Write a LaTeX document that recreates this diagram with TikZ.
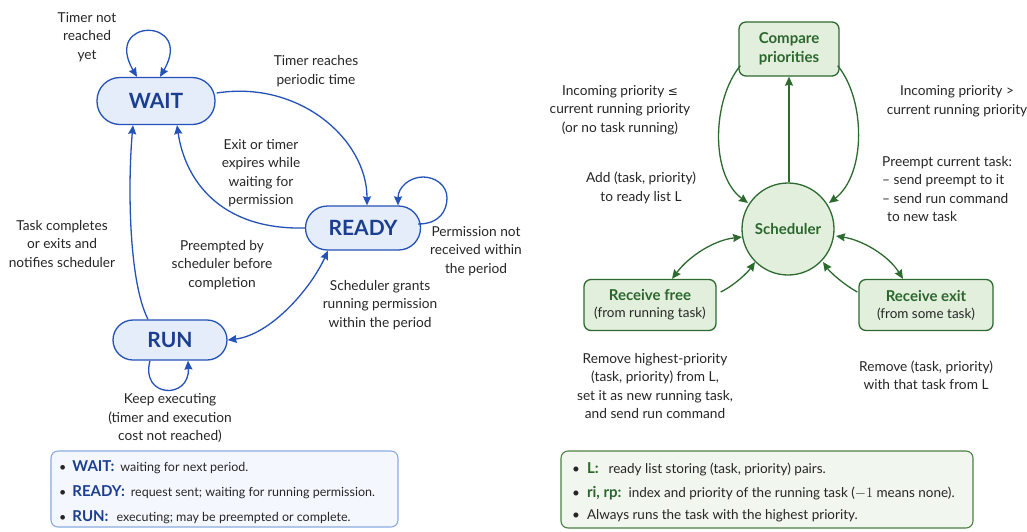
\documentclass[tikz,border=0pt]{standalone}
\usepackage{fontspec}
\setmainfont{Lato}
\newfontfamily\symfont{DejaVu Sans}
\usetikzlibrary{arrows.meta,calc}
\definecolor{bline}{HTML}{2552B8}
\definecolor{btext}{HTML}{1B3E91}
\definecolor{bfill}{HTML}{E4EDF9}
\definecolor{gline}{HTML}{2D6A2F}
\definecolor{gtext}{HTML}{2B672D}
\definecolor{gfill}{HTML}{E3EFDD}
\definecolor{ink}{HTML}{262626}
\definecolor{blegfill}{HTML}{F4F8FE}
\definecolor{blegline}{HTML}{8BAAE3}
\definecolor{glegfill}{HTML}{F1F6EE}
\definecolor{glegline}{HTML}{4C7F45}
\begin{document}
\begin{tikzpicture}[x=1pt,y=-1pt,
  tip/.tip={Stealth[length=9pt,width=8pt,inset=1pt]},
  state/.style={draw=bline, line width=1.3pt, fill=bfill, text=btext,
    font=\fontsize{21}{24}\selectfont\bfseries, inner sep=0pt},
  barr/.style={draw=bline, line width=1.3pt, -tip},
  barrb/.style={draw=bline, line width=1.3pt, tip-tip},
  garr/.style={draw=gline, line width=1.3pt, -tip},
  garrb/.style={draw=gline, line width=1.3pt, tip-tip},
  lbl/.style={text=ink, align=center, font=\fontsize{13.7}{18.5}\selectfont, inner sep=0pt},
  gbox/.style={draw=gline, line width=1.3pt, fill=gfill, rounded corners=7pt, align=center, inner sep=0pt},
  legitem/.style={anchor=west, text=ink, inner sep=0pt},
]
\useasboundingbox[fill=white] (0,0) rectangle (1027,531);

% ---------- task state machine ----------
\node[state, minimum width=118pt, minimum height=47pt, rounded corners=23pt] (wait) at (156,101) {WAIT};
\node[state, minimum width=115pt, minimum height=44pt, rounded corners=22pt] (ready) at (363,228) {READY};
\node[state, minimum width=114pt, minimum height=40pt, rounded corners=20pt] (run) at (170,340) {RUN};

% self loops
\draw[barrb] ($(wait.north)+(-19,0)$) .. controls (102,17) and (195,17) .. ($(wait.north)+(4,0)$);
\draw[barr] ($(ready.east)+(-3,-4)$) .. controls (440,224) and (447,210) .. (447,198)
  .. controls (447,185) and (435,177) .. (423,177)
  .. controls (410,177) and (398,187) .. ($(ready.north)+(35,0)$);
\draw[barr] ($(run.south)+(-20,0)$) .. controls (140,398) and (190,400) .. ($(run.south)+(18,0)$);

% transitions
\draw[barr] ($(wait.east)+(1,-8)$) .. controls (300,80) and (367,140) .. ($(ready.north)+(4,0)$);
\draw[barr] (ready.west) .. controls (220,230) and (185,180) .. ($(wait.south)+(21,0)$);
\draw[barr] ($(run.north)+(-22,0)$) .. controls (128,280) and (128,180) .. ($(wait.south)+(-23,0)$);
\draw[barrb] (run.east) .. controls (270,335) and (310,290) .. ($(ready.south)+(-35,0)$);

% transition labels
\node[lbl] (l1) at (87,37) {Timer not\\reached\\yet};
\node[lbl] (l2) at (316,71) {Timer reaches\\periodic time};
\node[lbl] (l3) at (261,173) {Exit or timer\\expires while\\waiting for\\permission};
\node[lbl] (l4) at (476,251) {Permission not\\received within\\the period};
\node[lbl] (l5) at (62,244) {Task completes\\or exits and\\notifies scheduler};
\node[lbl] (l6) at (222,265) {Preempted by\\scheduler before\\completion};
\node[lbl] (l7) at (380,305) {Scheduler grants\\running permission\\within the period};
\node[lbl] (l8) at (170,418) {Keep executing\\(timer and execution\\cost not reached)};

% state legend
\draw[draw=blegline, line width=1.1pt, fill=blegfill, rounded corners=7pt] (51,451) rectangle (398,527);
\foreach \y/\k/\t/\g in {467/WAIT:/waiting for next period./6pt,
                         492/READY:/request sent; waiting for running permission./6pt,
                         517/RUN:/executing; may be preempted or complete./8pt}{
  \node[legitem, font=\fontsize{12.5}{14}\selectfont] at (59,\y)
    {\textbullet\hspace{6pt}{\color{btext}\fontsize{15}{16}\selectfont\bfseries \k}\hspace{\g}\t};
}

% ---------- scheduler ----------
\node[gbox, minimum width=100pt, minimum height=54pt, text=gtext,
  font=\fontsize{15}{19}\selectfont\bfseries] (cmp) at (789,49) {Compare\\priorities};
\node[draw=gline, line width=1.3pt, fill=gfill, circle, minimum size=92pt, inner sep=0pt,
  text=gtext, font=\fontsize{15}{16}\selectfont\bfseries] (sch) at (788,229) {Scheduler};
\node[gbox, minimum width=132pt, minimum height=51pt] (free) at (650,305)
  {{\color{gtext}\fontsize{15}{16}\selectfont\bfseries Receive free}\\[5pt]{\color{ink}\fontsize{13.5}{15}\selectfont (from running task)}};
\node[gbox, minimum width=134pt, minimum height=51pt] (exit) at (926,305)
  {{\color{gtext}\fontsize{15}{16}\selectfont\bfseries Receive exit}\\[5pt]{\color{ink}\fontsize{13.5}{15}\selectfont (from some task)}};

\draw[garr] ($(sch.north)+(1,0)$) -- ($(cmp.south)+(0,0)$);
\draw[garr] ($(cmp.south west)+(2,-11)$) .. controls (712,100) and (710,175) .. ($(sch.center)+(-40,-26)$);
\draw[garr] ($(cmp.south east)+(-2,-11)$) .. controls (866,100) and (866,175) .. ($(sch.center)+(41,-26)$);
\draw[garrb] ($(free.north)+(22,0)$) .. controls (690,255) and (715,240) .. ($(sch.center)+(-46,8)$);
\draw[garr] ($(free.east)+(4,-13)$) .. controls (735,285) and (748,272) .. ($(sch.center)+(-33,33)$);
\draw[garrb] ($(sch.center)+(48,7)$) .. controls (862,240) and (888,255) .. ($(exit.north)+(-23,0)$);
\draw[garr] ($(exit.west)+(-1,-13)$) .. controls (843,284) and (830,272) .. ($(sch.center)+(35,33)$);

\node[lbl] (r1) at (620,110) {Incoming priority {\symfont\fontsize{12}{18.5}\selectfont ≤}\\current running priority\\(or no task running)};
\node[lbl] (r2) at (641,188) {Add (task, priority)\\to ready list L};
\node[lbl] (r3) at (957,101) {Incoming priority >\\current running priority};
\node[lbl, align=left, anchor=west] (r4) at (882,189) {Preempt current task:\\– send preempt to it\\– send run command\\\hspace*{5pt}to new task};
\node[lbl] (r5) at (655,386) {Remove highest-priority\\(task, priority) from L,\\set it as new running task,\\and send run command};
\node[lbl] (r6) at (926,375) {Remove (task, priority)\\with that task from L};

% scheduler legend
\draw[draw=glegline, line width=1.1pt, fill=glegfill, rounded corners=7pt] (561,451) rectangle (973,528);
\node[legitem, font=\fontsize{13.5}{15}\selectfont] at (572,469)
  {\textbullet\hspace{7pt}{\color{gtext}\fontsize{15}{16}\selectfont\bfseries L:}\hspace{10pt}ready list storing (task, priority) pairs.};
\node[legitem, font=\fontsize{13.5}{15}\selectfont] at (572,493)
  {\textbullet\hspace{7pt}{\color{gtext}\fontsize{15}{16}\selectfont\bfseries ri, rp:}\hspace{7pt}index and priority of the running task ($-1$ means none).};
\node[legitem, font=\fontsize{13.5}{15}\selectfont] at (572,516)
  {\textbullet\hspace{7pt}Always runs the task with the highest priority.};
\end{tikzpicture}
\end{document}
